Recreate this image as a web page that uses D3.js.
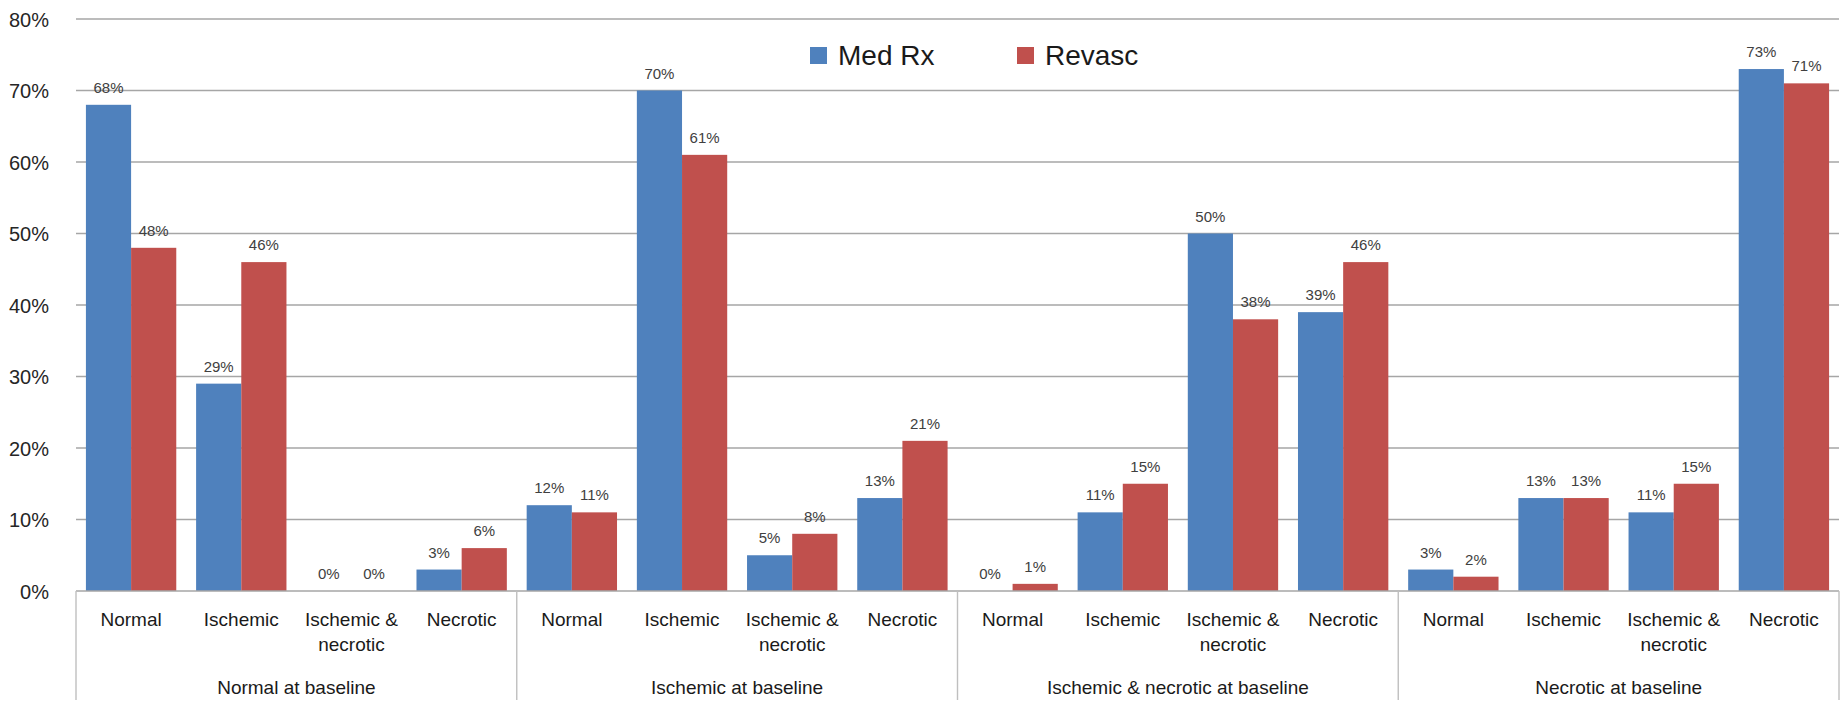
<!DOCTYPE html>
<html>
<head>
<meta charset="utf-8">
<script src="https://cdn.jsdelivr.net/npm/d3@7"></script>
<style>
  html, body { margin: 0; padding: 0; background: #fff; }
  svg { display: block; font-family: "Liberation Sans", Arial, sans-serif; }
</style>
</head>
<body>
<svg id="chart" width="1845" height="707"></svg>
<script>
// Baseline groups and follow-up categories
const groups = ["Normal at baseline", "Ischemic at baseline", "Ischemic & necrotic at baseline", "Necrotic at baseline"];
const subcats = ["Normal", "Ischemic", "Ischemic &\nnecrotic", "Necrotic"];
const seriesNames = ["Med Rx", "Revasc"];
const medRx  = [68, 29, 0, 3, 12, 70, 5, 13, 0, 11, 50, 39, 3, 13, 11, 73];
const revasc = [48, 46, 0, 6, 11, 61, 8, 21, 1, 15, 38, 46, 2, 13, 15, 71];
const yTicks = [0, 10, 20, 30, 40, 50, 60, 70, 80];
const colors = ["#4f81bd", "#c0504d"];

const svg = d3.select("#chart");
const plotLeft = 76, plotRight = 1839, plotTop = 19, plotBottom = 591;

// one row per (group, sub-category)
const rows = [];
groups.forEach((g, gi) => subcats.forEach((s, si) => {
  const i = gi * subcats.length + si;
  rows.push({ key: i, group: g, sub: s, values: [medRx[i], revasc[i]] });
}));

const x = d3.scaleBand().domain(rows.map(d => d.key)).range([plotLeft, plotRight])
  .paddingInner(0.18).paddingOuter(0.09);
const xs = d3.scaleBand().domain(seriesNames).range([0, x.bandwidth()]);
const y = d3.scaleLinear().domain([0, 80]).range([plotBottom, plotTop]);
const step = x.step();

// horizontal gridlines
svg.append("g").selectAll("line").data(yTicks.filter(t => t > 0)).join("line")
  .attr("x1", plotLeft).attr("x2", plotRight)
  .attr("y1", d => y(d)).attr("y2", d => y(d))
  .attr("stroke", "#a6a6a6").attr("stroke-width", 1.6);

// y axis labels
const yAxis = svg.append("g").attr("transform", `translate(${plotLeft - 24},0)`)
  .call(d3.axisLeft(y).tickValues(yTicks).tickSize(0).tickFormat(d => d + "%"));
yAxis.select(".domain").remove();
yAxis.selectAll("text").attr("font-size", 20).attr("fill", "#262626")
  .attr("font-family", "\"Liberation Sans\", Arial, sans-serif").attr("dy", "0.35em");

// bars
const cat = svg.append("g").selectAll("g").data(rows).join("g")
  .attr("transform", d => `translate(${x(d.key)},0)`);
cat.selectAll("rect").data(d => d.values.map((v, k) => ({ v, s: seriesNames[k], k }))).join("rect")
  .attr("x", d => xs(d.s)).attr("width", xs.bandwidth())
  .attr("y", d => y(d.v)).attr("height", d => y(0) - y(d.v))
  .attr("fill", d => colors[d.k]);

// value labels
cat.selectAll("text").data(d => d.values.map((v, k) => ({ v, s: seriesNames[k] }))).join("text")
  .attr("x", d => xs(d.s) + xs.bandwidth() / 2)
  .attr("y", d => y(d.v) - 12)
  .attr("text-anchor", "middle").attr("font-size", 15).attr("fill", "#404040")
  .text(d => d.v + "%");

// category axis line and group separators
svg.append("line").attr("x1", plotLeft).attr("x2", plotRight).attr("y1", plotBottom).attr("y2", plotBottom)
  .attr("stroke", "#a6a6a6").attr("stroke-width", 1.6);
const sepX = d3.range(groups.length + 1).map(i => plotLeft + i * subcats.length * step);
svg.append("g").selectAll("line").data(sepX).join("line")
  .attr("x1", d => d).attr("x2", d => d).attr("y1", plotBottom).attr("y2", 700)
  .attr("stroke", "#bfbfbf").attr("stroke-width", 1.4);

// sub-category labels
const sub = svg.append("g").selectAll("text").data(rows).join("text")
  .attr("text-anchor", "middle").attr("font-size", 19).attr("fill", "#1a1a1a")
  .attr("transform", d => `translate(${x(d.key) + x.bandwidth() / 2},626)`);
sub.selectAll("tspan").data(d => d.sub.split("\n")).join("tspan")
  .attr("x", 0).attr("dy", (d, i) => i === 0 ? 0 : 25).text(d => d);

// group labels
svg.append("g").selectAll("text").data(groups).join("text")
  .attr("x", (d, i) => (sepX[i] + sepX[i + 1]) / 2).attr("y", 694)
  .attr("text-anchor", "middle").attr("font-size", 19).attr("fill", "#1a1a1a")
  .text(d => d);

// legend
const legend = svg.append("g");
const legendX = [810, 1017];
seriesNames.forEach((name, i) => {
  legend.append("rect").attr("x", legendX[i]).attr("y", 47).attr("width", 17).attr("height", 17)
    .attr("fill", colors[i]);
  legend.append("text").attr("x", legendX[i] + 28).attr("y", 65)
    .attr("font-size", 28).attr("fill", "#1a1a1a").text(name);
});
</script>
</body>
</html>
